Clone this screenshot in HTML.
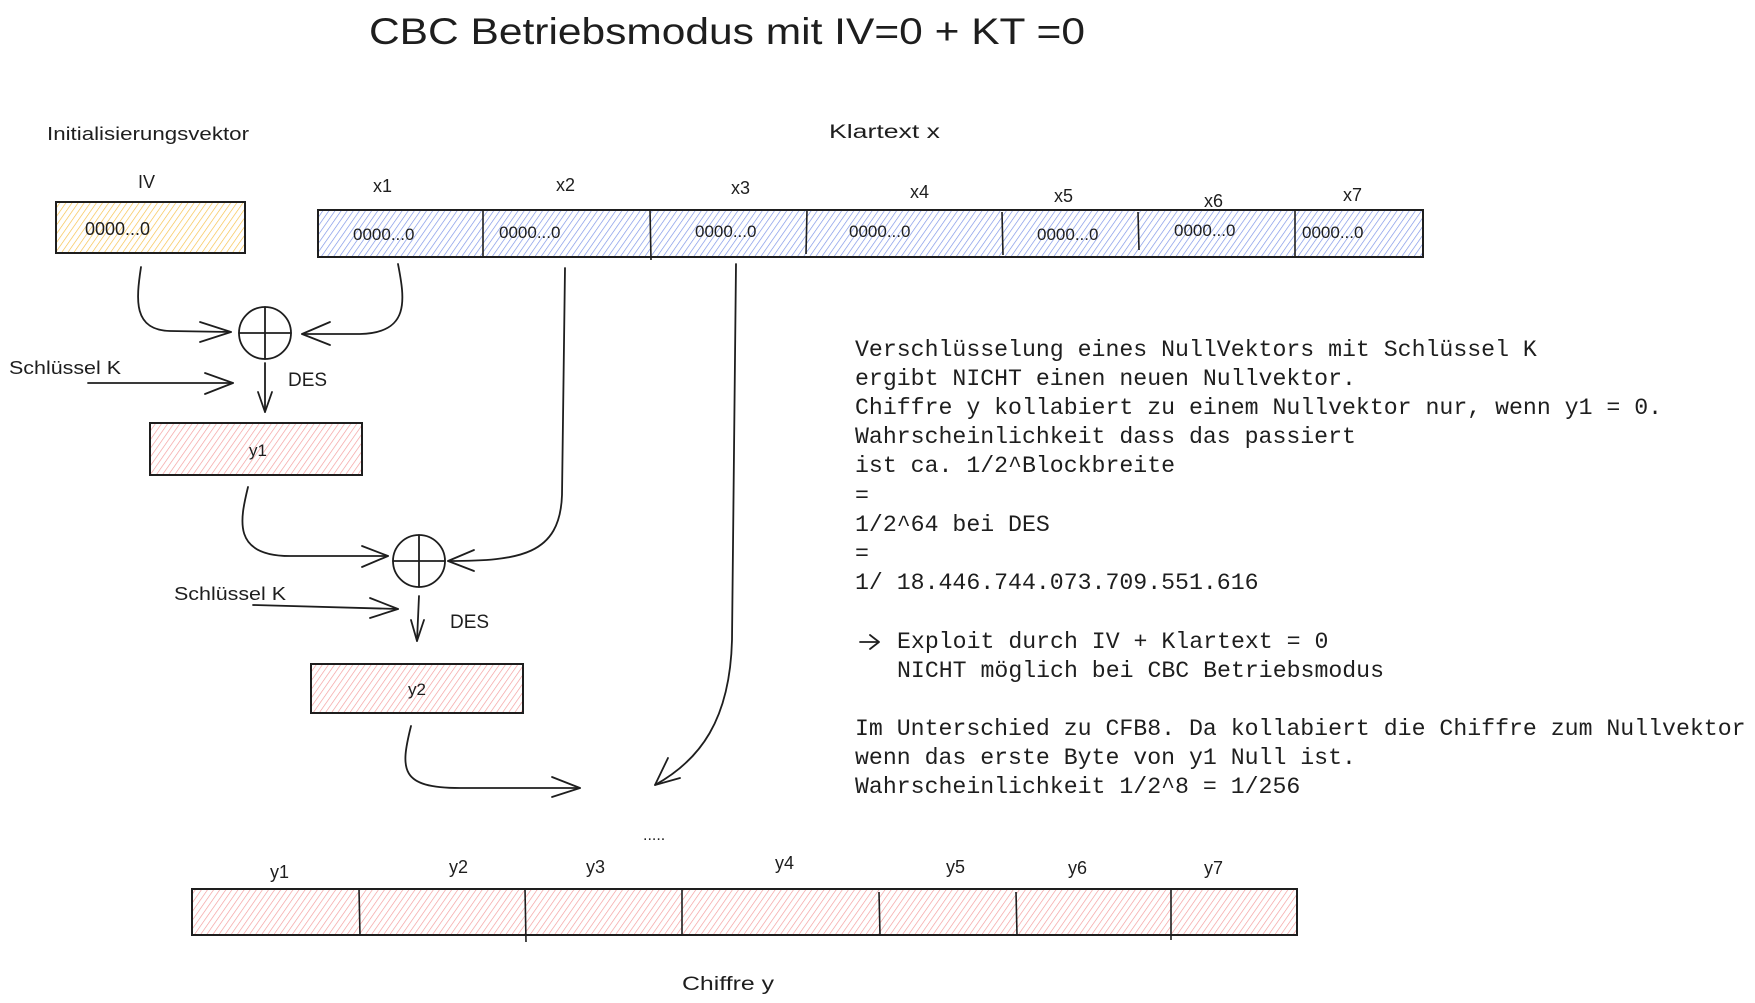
<!DOCTYPE html>
<html><head><meta charset="utf-8"><style>
html,body{margin:0;padding:0;background:#fff;}
svg{display:block;}
.h{font-family:"Liberation Sans",sans-serif;fill:#1e1e1e;}
.m{font-family:"Liberation Mono","DejaVu Sans Mono",monospace;font-size:23.2px;fill:#1e1e1e;}
</style></head><body>
<svg width="1755" height="1003" viewBox="0 0 1755 1003" xmlns="http://www.w3.org/2000/svg">
<defs>
<pattern id="po" width="5" height="5" patternUnits="userSpaceOnUse" patternTransform="rotate(35)"><line x1="0" y1="0" x2="0" y2="5" stroke="#f6bf45" stroke-width="1.3"/></pattern>
<pattern id="pb" width="5" height="5" patternUnits="userSpaceOnUse" patternTransform="rotate(35)"><line x1="0" y1="0" x2="0" y2="5" stroke="#7890e6" stroke-width="1.3"/></pattern>
<pattern id="pr" width="5" height="5" patternUnits="userSpaceOnUse" patternTransform="rotate(35)"><line x1="0" y1="0" x2="0" y2="5" stroke="#f39a9a" stroke-width="1.3"/></pattern>
</defs>
<text class="h" x="369" y="44" font-size="37" textLength="716" lengthAdjust="spacingAndGlyphs">CBC Betriebsmodus mit IV=0 + KT =0</text>
<text class="h" x="47" y="140" font-size="18" textLength="202" lengthAdjust="spacingAndGlyphs">Initialisierungsvektor</text>
<text class="h" x="138" y="188" font-size="18">IV</text>
<text class="h" x="829" y="138" font-size="19" textLength="111" lengthAdjust="spacingAndGlyphs">Klartext x</text>

<rect x="56" y="202" width="189" height="51" fill="url(#po)" stroke="#1e1e1e" stroke-width="2"/>
<text class="h" x="85" y="235" font-size="18">0000...0</text>

<rect x="318" y="210" width="1105" height="47" fill="url(#pb)" stroke="#1e1e1e" stroke-width="2"/>
<g stroke="#1e1e1e" stroke-width="1.6">
<line x1="483" y1="210" x2="483" y2="257"/><line x1="650" y1="210" x2="651" y2="260"/>
<line x1="807" y1="210" x2="806" y2="254"/><line x1="1002" y1="212" x2="1003" y2="255"/>
<line x1="1138" y1="212" x2="1139" y2="250"/><line x1="1295" y1="210" x2="1295" y2="257"/>
</g>
<g class="h" font-size="17">
<text x="353" y="240">0000...0</text><text x="499" y="238">0000...0</text><text x="695" y="237">0000...0</text>
<text x="849" y="237">0000...0</text><text x="1037" y="240">0000...0</text><text x="1174" y="236">0000...0</text><text x="1302" y="238">0000...0</text>
</g>
<g class="h" font-size="18">
<text x="373" y="192">x1</text><text x="556" y="191">x2</text><text x="731" y="194">x3</text><text x="910" y="198">x4</text>
<text x="1054" y="202">x5</text><text x="1204" y="207">x6</text><text x="1343" y="201">x7</text>
</g>

<g fill="none" stroke="#1e1e1e" stroke-width="1.8" stroke-linecap="round" stroke-linejoin="round">
<circle cx="265" cy="333" r="26"/><line x1="265" y1="307" x2="265" y2="359"/><line x1="239" y1="333" x2="291" y2="333"/>
<path d="M141 267 C136 300,133 330,170 331 L231 332"/><path d="M200 322 L231 332 L200 342"/>
<path d="M398 264 C405 300,410 333,360 334 L302 334"/><path d="M330 322 L302 334 L330 345"/>
<path d="M88 383 L233 383"/><path d="M205 373 L233 383 L205 394"/>
<path d="M265 363 L265 412"/><path d="M258 392 L265 412 L272 392"/>
<path d="M248 487 C240 520,232 556,290 556 L388 556"/><path d="M362 546 L388 556 L362 567"/>
<circle cx="419" cy="561" r="26"/><line x1="419" y1="535" x2="419" y2="587"/><line x1="393" y1="561" x2="445" y2="561"/>
<path d="M565 268 L562 495 C560 555,520 561,448 561"/><path d="M474 550 L448 561 L474 571"/>
<path d="M253 605 L398 609"/><path d="M370 598 L398 609 L370 618"/>
<path d="M419 596 L417 641"/><path d="M411 620 L417 641 L424 620"/>
<path d="M411 726 C400 770,400 788,460 788 L580 788"/><path d="M552 777 L580 788 L552 797"/>
<path d="M736 264 L732 640 C730 720,700 760,655 785"/><path d="M668 758 L655 785 L680 778"/>
<!-- arrow in text -->
<path d="M860 642 L878 642"/><path d="M870 635 L879 642 L870 649"/>
</g>
<text class="h" x="9" y="374" font-size="18" textLength="112" lengthAdjust="spacingAndGlyphs">Schlüssel K</text>
<text class="h" x="288" y="386" font-size="19">DES</text>
<text class="h" x="174" y="600" font-size="18" textLength="112" lengthAdjust="spacingAndGlyphs">Schlüssel K</text>
<text class="h" x="450" y="628" font-size="19">DES</text>

<rect x="150" y="423" width="212" height="52" fill="url(#pr)" stroke="#1e1e1e" stroke-width="2"/>
<text class="h" x="249" y="456" font-size="17">y1</text>
<rect x="311" y="664" width="212" height="49" fill="url(#pr)" stroke="#1e1e1e" stroke-width="2"/>
<text class="h" x="408" y="695" font-size="17">y2</text>

<text class="h" x="643" y="840" font-size="16">.....</text>

<rect x="192" y="889" width="1105" height="46" fill="url(#pr)" stroke="#1e1e1e" stroke-width="2"/>
<g stroke="#1e1e1e" stroke-width="1.6">
<line x1="359" y1="889" x2="360" y2="936"/><line x1="525" y1="889" x2="526" y2="942"/>
<line x1="682" y1="889" x2="682" y2="935"/><line x1="879" y1="892" x2="880" y2="935"/>
<line x1="1016" y1="892" x2="1017" y2="935"/><line x1="1171" y1="889" x2="1171" y2="940"/>
</g>
<g class="h" font-size="18">
<text x="270" y="878">y1</text><text x="449" y="873">y2</text><text x="586" y="873">y3</text><text x="775" y="869">y4</text>
<text x="946" y="873">y5</text><text x="1068" y="874">y6</text><text x="1204" y="874">y7</text>
</g>
<text class="h" x="682" y="990" font-size="19" textLength="92" lengthAdjust="spacingAndGlyphs">Chiffre y</text>

<g class="m">
<text x="855" y="356">Verschlüsselung eines NullVektors mit Schlüssel K</text>
<text x="855" y="385">ergibt NICHT einen neuen Nullvektor.</text>
<text x="855" y="414">Chiffre y kollabiert zu einem Nullvektor nur, wenn y1 = 0.</text>
<text x="855" y="443">Wahrscheinlichkeit dass das passiert</text>
<text x="855" y="472">ist ca. 1/2^Blockbreite</text>
<text x="855" y="502">=</text>
<text x="855" y="531">1/2^64 bei DES</text>
<text x="855" y="560">=</text>
<text x="855" y="589">1/ 18.446.744.073.709.551.616</text>
<text x="897" y="648">Exploit durch IV + Klartext = 0</text>
<text x="897" y="677">NICHT möglich bei CBC Betriebsmodus</text>
<text x="855" y="735">Im Unterschied zu CFB8. Da kollabiert die Chiffre zum Nullvektor</text>
<text x="855" y="764">wenn das erste Byte von y1 Null ist.</text>
<text x="855" y="793">Wahrscheinlichkeit 1/2^8 = 1/256</text>
</g>
</svg>
</body></html>
